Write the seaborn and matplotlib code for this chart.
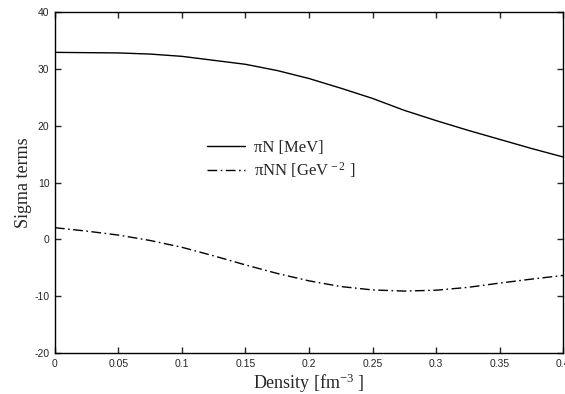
import numpy as np
import pandas as pd
import matplotlib
matplotlib.use("Agg")
import matplotlib.pyplot as plt
import seaborn as sns

# values
density = [0.0, 0.025, 0.05, 0.075, 0.1, 0.125, 0.15, 0.175, 0.2,
           0.225, 0.25, 0.275, 0.3, 0.325, 0.35, 0.375, 0.4]
sigma_piN = [32.9, 32.85, 32.8, 32.6, 32.2, 31.5, 30.8, 29.7, 28.3,
             26.6, 24.8, 22.7, 20.9, 19.2, 17.6, 16.0, 14.5]
sigma_piNN = [2.05, 1.45, 0.75, -0.2, -1.4, -2.9, -4.5, -6.0, -7.3,
              -8.3, -8.9, -9.1, -8.95, -8.45, -7.7, -7.0, -6.35]
x_ticks = [0, 0.05, 0.1, 0.15, 0.2, 0.25, 0.3, 0.35, 0.4]
x_labels = ['0', '0.05', '0.1', '0.15', '0.2', '0.25', '0.3', '0.35', '0.4']
y_ticks = [-20, -10, 0, 10, 20, 30, 40]

sns.set_style("ticks")
plt.rcParams['axes.unicode_minus'] = False
plt.rcParams['mathtext.fontset'] = 'custom'
plt.rcParams['mathtext.rm'] = 'Liberation Serif'
plt.rcParams['mathtext.it'] = 'Liberation Serif:italic'

df = pd.DataFrame({'density': density, 'piN': sigma_piN, 'piNN': sigma_piNN})

fig = plt.figure(figsize=(5.65, 3.94), dpi=100)
ax = fig.add_axes([0.0973, 0.104, 0.8992, 0.8655])

sns.lineplot(data=df, x='density', y='piN', ax=ax, color='black', lw=1.0,
             label='πN [MeV]')
sns.lineplot(data=df, x='density', y='piNN', ax=ax, color='black', lw=1.0,
             linestyle=(0, (7, 2.5, 1.2, 2.5)), label=r'πNN [GeV$^{\,-2}$ ]')

ax.set_xlim(0, 0.4)
ax.set_ylim(-20, 40)
ax.set_xticks(x_ticks)
ax.set_xticklabels(x_labels)
ax.set_yticks(y_ticks)
ax.tick_params(direction='in', top=True, right=True, length=4, width=1,
               labelsize=7.5, pad=4)
for lab in ax.get_xticklabels() + ax.get_yticklabels():
    lab.set_fontfamily('Liberation Sans')
for sp in ax.spines.values():
    sp.set_visible(True)
    sp.set_linewidth(1.0)
    sp.set_color('black')

ax.set_xlabel(r'Density [fm$^{-3}$ ]', fontfamily='Liberation Serif',
              fontsize=13, labelpad=2)
ax.set_ylabel('Sigma terms', fontfamily='Liberation Serif', fontsize=13,
              labelpad=2)

leg = ax.legend(loc='upper left', bbox_to_anchor=(0.27, 0.67), frameon=False,
                prop={'family': 'Liberation Serif', 'size': 12},
                handlelength=2.3, handletextpad=0.5, labelspacing=0.3)

fig.savefig('out.png', dpi=100)
